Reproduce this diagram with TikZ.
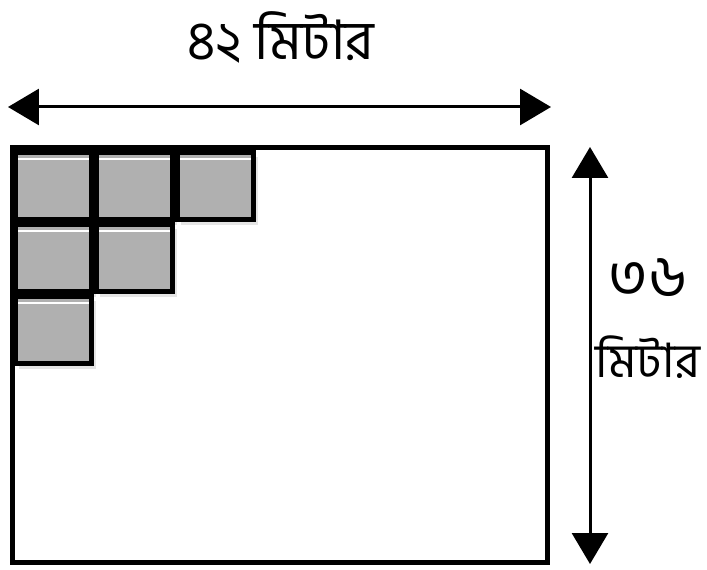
\documentclass[tikz,border=0pt]{standalone}
\usepackage{fontspec}
\newfontfamily\bnfont[Script=Bengali]{Hind Siliguri}
\usetikzlibrary{arrows.meta,shadows}
\tikzset{
  tile/.style={draw=black, line width=0.09cm, fill=black!31,
    minimum width=1.53cm, minimum height=1.35cm, inner sep=0pt,
    drop shadow={shadow xshift=0.08cm, shadow yshift=-0.1cm, opacity=0.25, fill=black!40},
    path picture={\draw[white, line width=0.05cm]
      ([yshift=-0.13cm]path picture bounding box.north west) --
      ([yshift=-0.13cm]path picture bounding box.north east);}},
  dimarrow/.style={line width=0.06cm, {Triangle[length=0.62cm,width=0.72cm]}-{Triangle[length=0.62cm,width=0.72cm]}},
  label/.style={font=\bnfont\fontsize{27}{30}\selectfont, inner sep=0pt}
}
\begin{document}
\begin{tikzpicture}[x=0.02cm, y=-0.02cm]
    \useasboundingbox (0,0) rectangle (707,570);
    \fill[white] (0,0) rectangle (707,570);
    % plot
    \draw[line width=0.1cm] (12.5,147.5) rectangle (547.5,562.5);
    \foreach \c/\r in {0/0,1/0,2/0,0/1,1/1,0/2}
        \node[tile] (sq-\c-\r) at (53.5+81*\c, 186+72*\r) {};
    % dimensions
    \coordinate (wl) at (8,107);
    \coordinate (wr) at (551,107);
    \coordinate (ht) at (590,147);
    \coordinate (hb) at (590,564);
    \draw[dimarrow] (wl) -- (wr);
    \draw[dimarrow] (ht) -- (hb);
    \node[label, font=\bnfont\fontsize{31}{34}\selectfont] (width) at (281,37) {৪২ মিটার};
    \node[label, font=\bnfont\fontsize{34}{36}\selectfont] (hnum) at (648,278) {৩৬};
    \node[label] (hunit) at (648,357) {মিটার};
\end{tikzpicture}
\end{document}
